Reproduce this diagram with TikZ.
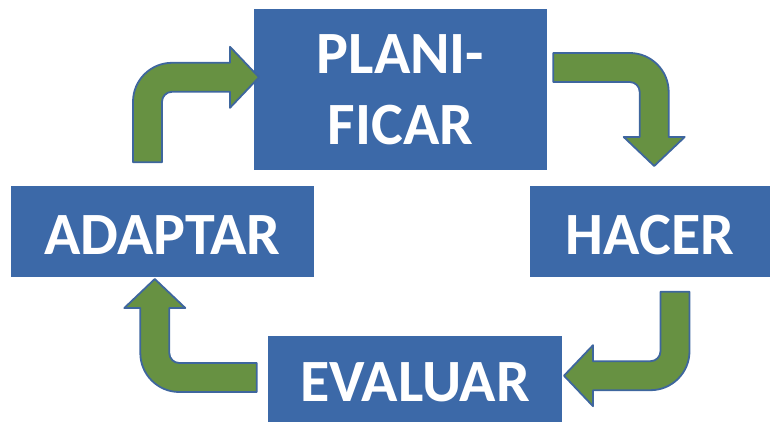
\documentclass[tikz,border=0pt]{standalone}
\usepackage{fontspec}
\setmainfont{Carlito}
\definecolor{boxblue}{RGB}{60,105,168}
\definecolor{arrowgreen}{RGB}{103,145,66}
\definecolor{arrowline}{RGB}{62,102,158}

% sizes of the bent block arrows
\newcommand{\shafth}{14.5}
\newcommand{\headh}{30.5}
\newcommand{\headl}{29}
\newcommand{\innerr}{10}
\newcommand{\outerr}{39}

% #1 start, #2 direction, #3 first leg, #4 second leg
\newcommand{\bentarrow}[4]{%
  \draw[arrowshape, shift={(#1)}, rotate=#2]
    (0,-\shafth) -- (0,\shafth) -- ({#3+\shafth-\outerr},\shafth)
    arc[start angle=90, end angle=0, radius=\outerr]
    -- ({#3+\shafth},-#4) -- ({#3+\headh},-#4) -- (#3,{-#4-\headl})
    -- ({#3-\headh},-#4) -- ({#3-\shafth},-#4)
    -- ({#3-\shafth},{-\shafth-\innerr})
    arc[start angle=0, end angle=90, radius=\innerr]
    -- cycle;
}

\tikzset{
  stepbox/.style={rectangle, fill=boxblue, text=white, inner sep=0pt,
    align=center, font=\fontsize{60}{71}\selectfont\bfseries},
  oneline/.style={text height=45pt, text depth=0pt},
  arrowshape/.style={fill=arrowgreen, draw=arrowline, line width=1.8pt, line join=round}
}

\begin{document}
\begin{tikzpicture}[x=1pt, y=1pt]
    \useasboundingbox (0,0) rectangle (771,423);

    \node[stepbox, minimum width=293, minimum height=161] (planificar) at (400.5,333.5) {PLANI-\\FICAR};
    \node[stepbox, oneline, minimum width=240, minimum height=91] (hacer) at (650,191) {HACER};
    \node[stepbox, oneline, minimum width=294, minimum height=86] (evaluar) at (415,44) {EVALUAR};
    \node[stepbox, oneline, minimum width=303, minimum height=91] (adaptar) at (162.5,191) {ADAPTAR};

    \coordinate (s1) at ([shift={(-15,24)}]adaptar.north);
    \coordinate (s2) at ([shift={(6,22)}]planificar.east);
    \coordinate (s3) at ([shift={(25,-14)}]hacer.south);
    \coordinate (s4) at ([shift={(-11,1.5)}]evaluar.west);

    \bentarrow{s1}{90}{85}{82.5}
    \bentarrow{s2}{0}{101}{69.5}
    \bentarrow{s3}{-90}{84}{82}
    \bentarrow{s4}{180}{102}{69.5}
\end{tikzpicture}
\end{document}
